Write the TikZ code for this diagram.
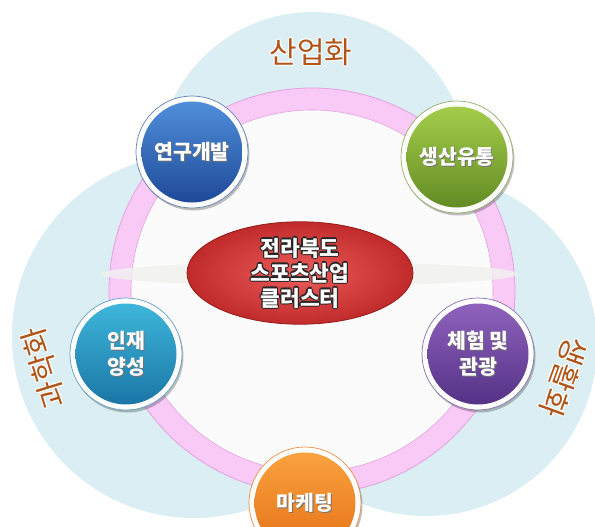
\documentclass[tikz,border=0pt]{standalone}
\usepackage{fontspec}
\newfontfamily\kr{Noto Sans CJK KR}
\usetikzlibrary{shapes.geometric,shadows}
\definecolor{skyfill}{RGB}{219,238,243}
\definecolor{ringpink}{RGB}{250,202,247}
\definecolor{ringedge}{RGB}{228,160,224}
\definecolor{innerwhite}{RGB}{251,251,251}
\definecolor{labelbrown}{RGB}{176,84,24}
\definecolor{discgrey}{RGB}{196,202,190}
\definecolor{blueT}{RGB}{80,142,218}
\definecolor{blueB}{RGB}{30,74,152}
\definecolor{greenT}{RGB}{165,205,75}
\definecolor{greenB}{RGB}{98,140,36}
\definecolor{tealT}{RGB}{62,182,218}
\definecolor{tealB}{RGB}{26,118,166}
\definecolor{purpT}{RGB}{142,98,188}
\definecolor{purpB}{RGB}{84,50,134}
\definecolor{oranT}{RGB}{250,162,62}
\definecolor{oranB}{RGB}{228,112,20}
\definecolor{redIn}{RGB}{238,92,92}
\definecolor{redOut}{RGB}{192,42,42}
\definecolor{redEdge}{RGB}{150,28,28}
\newcommand\tsh[1]{\leavevmode\rlap{\kern1pt\raisebox{-1.2pt}{\color{black!55}#1}}#1}
\newcommand\olx[3]{\leavevmode\setbox0\hbox{#3}%
  \rlap{\color{#1}\kern1.1pt\copy0}%
  \rlap{\color{#1}\kern-1.1pt\copy0}%
  \rlap{\color{#1}\raisebox{1.1pt}{\copy0}}%
  \rlap{\color{#1}\raisebox{-1.1pt}{\copy0}}%
  \rlap{\color{#1}\kern.8pt\raisebox{.8pt}{\copy0}}%
  \rlap{\color{#1}\kern-.8pt\raisebox{.8pt}{\copy0}}%
  \rlap{\color{#1}\kern.8pt\raisebox{-.8pt}{\copy0}}%
  \rlap{\color{#1}\kern-.8pt\raisebox{-.8pt}{\copy0}}%
  {\color{#2}\box0}}
\begin{document}
\begin{tikzpicture}[x=1pt,y=-1pt,
  rim/.style={circle, minimum size=112pt, inner sep=0pt, fill=white, draw=#1, line width=0.7pt,
    drop shadow={shadow xshift=1.5pt, shadow yshift=-2.5pt, opacity=0.25, fill=black}},
  ball/.style 2 args={circle, minimum size=101pt, inner sep=0pt, top color=#1, bottom color=#2,
    draw=none, text=white, align=center, font=\kr\bfseries\fontsize{20.5}{26}\selectfont},
  hub/.style={ellipse, minimum width=226pt, minimum height=84pt, inner sep=0pt,
    inner color=redIn, outer color=redOut, draw=redEdge, line width=0.8pt,
    align=center, font=\kr\bfseries\fontsize{21.5}{25}\selectfont},
  biglabel/.style={inner sep=0pt, font=\kr\fontsize{30}{34}\selectfont}
]
\useasboundingbox (0,0) rectangle (595,527);
\clip (0,0) rectangle (595,527);
\fill[white] (0,0) rectangle (595,527);
% background trefoil
\fill[skyfill] (313,168) circle (156pt);
\fill[skyfill] (194,336) circle (182pt);
\fill[skyfill] (426,345) circle (171pt);
% ring
\fill[ringpink, draw=ringedge, line width=0.8pt] (312,291) circle (203pt);
\fill[innerwhite, draw=ringedge, line width=0.6pt] (312,291) circle (181pt);
% flat grey disc
\shade[left color=discgrey!25, middle color=discgrey, right color=discgrey!25, opacity=0.8]
  (310,274) ellipse (208pt and 12pt);
% hub
\node[hub] (hub) at (300,273) {\olx{black!85}{white}{전라북도}\\\olx{black!85}{white}{스포츠산업}\\\olx{black!85}{white}{클러스터}};
% satellites
\node[rim=blueB!70] (rd-rim) at (192,152) {};
\node[ball={blueT}{blueB}] (rd) at (rd-rim) {\tsh{연구개발}};
\node[rim=greenB!70] (pd-rim) at (457,157) {};
\node[ball={greenT}{greenB}] (pd) at (pd-rim) {\tsh{생산유통}};
\node[rim=tealB!70] (hr-rim) at (126,354) {};
\node[ball={tealT}{tealB}] (hr) at (hr-rim) {\tsh{인재}\\\tsh{양성}};
\node[rim=purpB!70] (tr-rim) at (478,354) {};
\node[ball={purpT}{purpB}] (tr) at (tr-rim) {\tsh{체험 및}\\\tsh{관광}};
\node[rim=oranB!80] (mk-rim) at (305,503) {};
\node[ball={oranT}{oranB}] (mk) at (mk-rim) {\tsh{마케팅}};
% outer labels
\node[biglabel] (l-ind) at (311,52) {\olx{white}{labelbrown}{산업화}};
\node[biglabel, rotate=107] (l-sci) at (44,368) {\olx{white}{labelbrown}{과학화}};
\node[biglabel, rotate=-110] (l-life) at (564,377) {\olx{white}{labelbrown}{생활화}};
\end{tikzpicture}
\end{document}
